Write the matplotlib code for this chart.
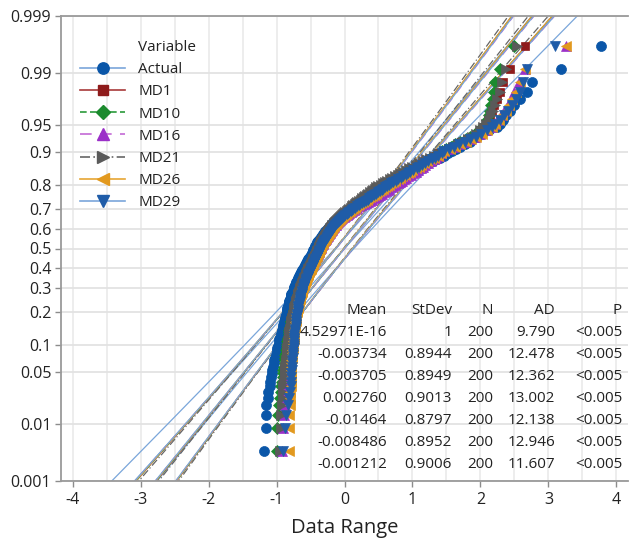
import numpy as np
import matplotlib
matplotlib.use("Agg")
import matplotlib.pyplot as plt
from matplotlib.lines import Line2D
from statistics import NormalDist

plt.rcParams['font.family'] = ['Open Sans', 'DejaVu Sans']

N = 200
names = ['Actual', 'MD1', 'MD10', 'MD16', 'MD21', 'MD26', 'MD29']
means = [4.52971e-16, -0.003734, -0.003705, 0.002760, -0.01464, -0.008486, -0.001212]
stdevs = [1, 0.8944, 0.8949, 0.9013, 0.8797, 0.8952, 0.9006]
mean_labels = ['4.52971E-16', '-0.003734', '-0.003705', '0.002760', '-0.01464', '-0.008486', '-0.001212']
stdev_labels = ['1', '0.8944', '0.8949', '0.9013', '0.8797', '0.8952', '0.9006']
n_labels = ['200'] * 7
ad_labels = ['9.790', '12.478', '12.362', '13.002', '12.138', '12.946', '11.607']
p_labels = ['<0.005'] * 7

prob_ticks = [0.001, 0.01, 0.05, 0.1, 0.2, 0.3, 0.4, 0.5, 0.6, 0.7, 0.8, 0.9, 0.95, 0.99, 0.999]
prob_tick_labels = ['0.001', '0.01', '0.05', '0.1', '0.2', '0.3', '0.4', '0.5', '0.6', '0.7',
                    '0.8', '0.9', '0.95', '0.99', '0.999']
x_ticks = [-4, -3, -2, -1, 0, 1, 2, 3, 4]

# sorted sample values (rank 1..200)
actual = [
    -1.19, -1.16, -1.16, -1.15, -1.13, -1.12, -1.10, -1.09, -1.08, -1.07,
    -1.06, -1.05, -1.04, -1.03, -1.02, -1.01, -1.00, -0.99, -0.99, -0.98,
    -0.97, -0.96, -0.96, -0.95, -0.94, -0.93, -0.92, -0.92, -0.91, -0.90,
    -0.90, -0.89, -0.89, -0.88, -0.87, -0.87, -0.86, -0.86, -0.85, -0.85,
    -0.85, -0.84, -0.84, -0.83, -0.83, -0.82, -0.82, -0.81, -0.81, -0.80,
    -0.80, -0.79, -0.79, -0.78, -0.78, -0.77, -0.76, -0.76, -0.75, -0.74,
    -0.74, -0.73, -0.73, -0.72, -0.71, -0.71, -0.70, -0.69, -0.69, -0.68,
    -0.67, -0.67, -0.66, -0.65, -0.64, -0.64, -0.63, -0.62, -0.61, -0.60,
    -0.59, -0.58, -0.58, -0.57, -0.56, -0.55, -0.55, -0.54, -0.53, -0.52,
    -0.51, -0.51, -0.50, -0.49, -0.48, -0.48, -0.47, -0.46, -0.46, -0.45,
    -0.44, -0.43, -0.43, -0.42, -0.41, -0.40, -0.40, -0.39, -0.38, -0.37,
    -0.36, -0.35, -0.34, -0.33, -0.32, -0.31, -0.30, -0.29, -0.28, -0.26,
    -0.25, -0.24, -0.23, -0.22, -0.20, -0.19, -0.18, -0.16, -0.15, -0.13,
    -0.11, -0.10, -0.08, -0.06, -0.04, -0.02, 0.00, 0.02, 0.04, 0.06,
    0.09, 0.12, 0.15, 0.17, 0.20, 0.23, 0.26, 0.29, 0.31, 0.34,
    0.37, 0.40, 0.42, 0.45, 0.48, 0.50, 0.53, 0.55, 0.58, 0.60,
    0.64, 0.67, 0.71, 0.75, 0.79, 0.83, 0.86, 0.90, 0.94, 0.98,
    1.03, 1.08, 1.14, 1.19, 1.25, 1.30, 1.36, 1.41, 1.47, 1.52,
    1.58, 1.64, 1.70, 1.77, 1.84, 1.88, 1.95, 2.02, 2.12, 2.24,
    2.28, 2.33, 2.38, 2.43, 2.50, 2.58, 2.68, 2.76, 3.18, 3.78,
]
md1 = [
    -0.93, -0.92, -0.91, -0.90, -0.89, -0.89, -0.88, -0.88, -0.87, -0.87,
    -0.86, -0.86, -0.85, -0.85, -0.85, -0.84, -0.84, -0.84, -0.83, -0.83,
    -0.83, -0.82, -0.82, -0.82, -0.81, -0.81, -0.80, -0.80, -0.80, -0.79,
    -0.79, -0.78, -0.78, -0.78, -0.77, -0.77, -0.76, -0.76, -0.76, -0.75,
    -0.75, -0.74, -0.74, -0.73, -0.73, -0.72, -0.72, -0.71, -0.71, -0.70,
    -0.70, -0.69, -0.69, -0.68, -0.68, -0.67, -0.66, -0.66, -0.65, -0.65,
    -0.64, -0.64, -0.63, -0.62, -0.62, -0.61, -0.60, -0.60, -0.59, -0.58,
    -0.58, -0.57, -0.56, -0.56, -0.55, -0.54, -0.54, -0.53, -0.52, -0.51,
    -0.51, -0.50, -0.49, -0.49, -0.48, -0.47, -0.47, -0.46, -0.45, -0.45,
    -0.44, -0.43, -0.43, -0.42, -0.41, -0.41, -0.40, -0.39, -0.39, -0.38,
    -0.37, -0.37, -0.36, -0.35, -0.35, -0.34, -0.33, -0.33, -0.32, -0.31,
    -0.30, -0.29, -0.29, -0.28, -0.27, -0.26, -0.25, -0.24, -0.23, -0.22,
    -0.21, -0.20, -0.19, -0.18, -0.17, -0.15, -0.14, -0.13, -0.12, -0.10,
    -0.09, -0.07, -0.06, -0.04, -0.02, -0.01, 0.01, 0.03, 0.05, 0.07,
    0.09, 0.12, 0.14, 0.17, 0.19, 0.22, 0.24, 0.27, 0.29, 0.32,
    0.34, 0.37, 0.39, 0.42, 0.44, 0.47, 0.49, 0.52, 0.54, 0.57,
    0.60, 0.63, 0.67, 0.70, 0.74, 0.77, 0.81, 0.85, 0.88, 0.92,
    0.96, 1.01, 1.05, 1.10, 1.14, 1.19, 1.24, 1.29, 1.34, 1.39,
    1.45, 1.52, 1.58, 1.65, 1.72, 1.80, 1.88, 1.95, 2.00, 2.05,
    2.08, 2.11, 2.14, 2.17, 2.20, 2.24, 2.28, 2.33, 2.43, 2.65,
]
md10 = [
    -1.00, -0.99, -0.98, -0.96, -0.95, -0.94, -0.93, -0.92, -0.91, -0.90,
    -0.90, -0.89, -0.88, -0.88, -0.87, -0.87, -0.86, -0.86, -0.85, -0.85,
    -0.84, -0.84, -0.83, -0.83, -0.82, -0.82, -0.81, -0.81, -0.80, -0.80,
    -0.79, -0.79, -0.78, -0.78, -0.77, -0.77, -0.76, -0.76, -0.75, -0.75,
    -0.74, -0.74, -0.73, -0.73, -0.72, -0.72, -0.71, -0.71, -0.70, -0.70,
    -0.69, -0.69, -0.68, -0.68, -0.67, -0.66, -0.66, -0.65, -0.65, -0.64,
    -0.64, -0.63, -0.62, -0.62, -0.61, -0.60, -0.60, -0.59, -0.58, -0.58,
    -0.57, -0.56, -0.56, -0.55, -0.54, -0.54, -0.53, -0.52, -0.51, -0.51,
    -0.50, -0.49, -0.49, -0.48, -0.47, -0.46, -0.46, -0.45, -0.44, -0.44,
    -0.43, -0.42, -0.42, -0.41, -0.40, -0.40, -0.39, -0.38, -0.38, -0.37,
    -0.36, -0.36, -0.35, -0.34, -0.34, -0.33, -0.32, -0.32, -0.31, -0.30,
    -0.29, -0.28, -0.28, -0.27, -0.26, -0.25, -0.24, -0.23, -0.22, -0.21,
    -0.20, -0.19, -0.18, -0.17, -0.16, -0.14, -0.13, -0.12, -0.11, -0.09,
    -0.08, -0.06, -0.05, -0.03, -0.01, 0.00, 0.02, 0.04, 0.06, 0.08,
    0.10, 0.13, 0.15, 0.18, 0.20, 0.23, 0.25, 0.28, 0.30, 0.33,
    0.35, 0.38, 0.40, 0.43, 0.45, 0.48, 0.50, 0.53, 0.55, 0.58,
    0.61, 0.64, 0.68, 0.71, 0.75, 0.78, 0.82, 0.86, 0.89, 0.93,
    0.97, 1.02, 1.06, 1.11, 1.15, 1.20, 1.25, 1.30, 1.35, 1.40,
    1.44, 1.50, 1.57, 1.63, 1.70, 1.78, 1.85, 1.92, 1.98, 2.04,
    2.08, 2.10, 2.12, 2.14, 2.16, 2.18, 2.20, 2.22, 2.28, 2.50,
]
md16 = [
    -0.92, -0.90, -0.89, -0.88, -0.87, -0.86, -0.86, -0.85, -0.85, -0.84,
    -0.84, -0.83, -0.83, -0.82, -0.82, -0.82, -0.81, -0.81, -0.81, -0.80,
    -0.80, -0.80, -0.79, -0.79, -0.79, -0.78, -0.78, -0.78, -0.77, -0.77,
    -0.77, -0.76, -0.76, -0.76, -0.75, -0.75, -0.75, -0.74, -0.74, -0.73,
    -0.73, -0.73, -0.72, -0.72, -0.71, -0.71, -0.70, -0.70, -0.69, -0.69,
    -0.68, -0.68, -0.67, -0.67, -0.66, -0.66, -0.65, -0.65, -0.64, -0.63,
    -0.63, -0.62, -0.62, -0.61, -0.60, -0.60, -0.59, -0.58, -0.58, -0.57,
    -0.56, -0.56, -0.55, -0.54, -0.54, -0.53, -0.52, -0.52, -0.51, -0.50,
    -0.49, -0.49, -0.48, -0.47, -0.47, -0.46, -0.45, -0.44, -0.44, -0.43,
    -0.42, -0.42, -0.41, -0.40, -0.39, -0.39, -0.38, -0.37, -0.37, -0.36,
    -0.35, -0.34, -0.34, -0.33, -0.32, -0.31, -0.31, -0.30, -0.29, -0.28,
    -0.27, -0.27, -0.26, -0.25, -0.24, -0.23, -0.22, -0.21, -0.20, -0.19,
    -0.18, -0.17, -0.16, -0.15, -0.13, -0.12, -0.11, -0.09, -0.08, -0.06,
    -0.05, -0.03, -0.01, 0.01, 0.03, 0.05, 0.07, 0.09, 0.11, 0.14,
    0.16, 0.19, 0.22, 0.25, 0.28, 0.31, 0.34, 0.37, 0.40, 0.43,
    0.46, 0.49, 0.52, 0.55, 0.58, 0.61, 0.64, 0.66, 0.69, 0.72,
    0.75, 0.78, 0.81, 0.84, 0.87, 0.91, 0.94, 0.98, 1.01, 1.05,
    1.08, 1.12, 1.15, 1.19, 1.23, 1.27, 1.31, 1.35, 1.39, 1.42,
    1.45, 1.52, 1.60, 1.68, 1.76, 1.84, 1.92, 2.00, 2.08, 2.15,
    2.20, 2.25, 2.30, 2.35, 2.40, 2.45, 2.50, 2.56, 2.65, 3.26,
]
md21 = [
    -0.95, -0.94, -0.93, -0.92, -0.91, -0.90, -0.90, -0.89, -0.88, -0.88,
    -0.87, -0.87, -0.86, -0.86, -0.85, -0.85, -0.85, -0.84, -0.84, -0.83,
    -0.83, -0.83, -0.82, -0.82, -0.81, -0.81, -0.81, -0.80, -0.80, -0.79,
    -0.79, -0.78, -0.78, -0.78, -0.77, -0.77, -0.76, -0.76, -0.75, -0.75,
    -0.75, -0.74, -0.74, -0.73, -0.73, -0.72, -0.72, -0.71, -0.71, -0.70,
    -0.70, -0.69, -0.69, -0.68, -0.68, -0.67, -0.67, -0.66, -0.65, -0.65,
    -0.64, -0.64, -0.63, -0.63, -0.62, -0.61, -0.61, -0.60, -0.59, -0.59,
    -0.58, -0.57, -0.57, -0.56, -0.55, -0.55, -0.54, -0.53, -0.53, -0.52,
    -0.51, -0.51, -0.50, -0.49, -0.48, -0.48, -0.47, -0.46, -0.46, -0.45,
    -0.44, -0.44, -0.43, -0.42, -0.42, -0.41, -0.40, -0.40, -0.39, -0.38,
    -0.38, -0.37, -0.36, -0.36, -0.35, -0.34, -0.34, -0.33, -0.32, -0.31,
    -0.31, -0.30, -0.29, -0.28, -0.27, -0.27, -0.26, -0.25, -0.24, -0.23,
    -0.22, -0.21, -0.20, -0.19, -0.18, -0.16, -0.15, -0.14, -0.13, -0.11,
    -0.10, -0.08, -0.07, -0.05, -0.04, -0.02, -0.01, 0.01, 0.03, 0.05,
    0.07, 0.09, 0.11, 0.13, 0.15, 0.17, 0.19, 0.21, 0.24, 0.26,
    0.28, 0.30, 0.33, 0.35, 0.37, 0.40, 0.42, 0.45, 0.47, 0.50,
    0.53, 0.56, 0.60, 0.63, 0.67, 0.70, 0.74, 0.78, 0.82, 0.86,
    0.90, 0.95, 1.00, 1.05, 1.10, 1.15, 1.20, 1.26, 1.31, 1.37,
    1.46, 1.53, 1.60, 1.67, 1.74, 1.81, 1.88, 1.94, 1.99, 2.04,
    2.08, 2.12, 2.16, 2.19, 2.22, 2.25, 2.28, 2.32, 2.38, 2.54,
]
md26 = [
    -0.82, -0.81, -0.81, -0.80, -0.80, -0.80, -0.79, -0.79, -0.79, -0.79,
    -0.78, -0.78, -0.78, -0.78, -0.77, -0.77, -0.77, -0.77, -0.76, -0.76,
    -0.76, -0.76, -0.75, -0.75, -0.75, -0.75, -0.74, -0.74, -0.74, -0.73,
    -0.73, -0.73, -0.73, -0.72, -0.72, -0.72, -0.71, -0.71, -0.71, -0.70,
    -0.70, -0.70, -0.69, -0.69, -0.69, -0.68, -0.68, -0.67, -0.67, -0.67,
    -0.66, -0.66, -0.65, -0.65, -0.64, -0.64, -0.63, -0.63, -0.62, -0.62,
    -0.61, -0.61, -0.60, -0.60, -0.59, -0.58, -0.58, -0.57, -0.57, -0.56,
    -0.55, -0.55, -0.54, -0.54, -0.53, -0.52, -0.52, -0.51, -0.50, -0.50,
    -0.49, -0.48, -0.48, -0.47, -0.46, -0.46, -0.45, -0.44, -0.44, -0.43,
    -0.42, -0.42, -0.41, -0.40, -0.40, -0.39, -0.38, -0.38, -0.37, -0.36,
    -0.36, -0.35, -0.34, -0.34, -0.33, -0.32, -0.31, -0.31, -0.30, -0.29,
    -0.28, -0.27, -0.27, -0.26, -0.25, -0.24, -0.23, -0.22, -0.21, -0.20,
    -0.19, -0.18, -0.17, -0.16, -0.15, -0.13, -0.12, -0.11, -0.09, -0.08,
    -0.06, -0.05, -0.03, -0.02, 0.00, 0.02, 0.04, 0.06, 0.08, 0.10,
    0.12, 0.15, 0.17, 0.20, 0.22, 0.25, 0.27, 0.30, 0.33, 0.35,
    0.38, 0.40, 0.43, 0.46, 0.48, 0.51, 0.54, 0.56, 0.59, 0.62,
    0.65, 0.68, 0.71, 0.75, 0.78, 0.82, 0.85, 0.89, 0.93, 0.96,
    1.00, 1.05, 1.09, 1.13, 1.17, 1.22, 1.27, 1.32, 1.37, 1.42,
    1.47, 1.55, 1.62, 1.70, 1.78, 1.86, 1.94, 2.02, 2.10, 2.17,
    2.22, 2.27, 2.32, 2.37, 2.42, 2.47, 2.52, 2.58, 2.65, 3.26,
]
md29 = [
    -0.90, -0.88, -0.86, -0.83, -0.81, -0.80, -0.79, -0.78, -0.78, -0.78,
    -0.77, -0.77, -0.77, -0.77, -0.76, -0.76, -0.76, -0.76, -0.75, -0.75,
    -0.75, -0.75, -0.74, -0.74, -0.74, -0.74, -0.73, -0.73, -0.73, -0.72,
    -0.72, -0.72, -0.72, -0.71, -0.71, -0.71, -0.70, -0.70, -0.70, -0.69,
    -0.69, -0.69, -0.68, -0.68, -0.68, -0.67, -0.67, -0.66, -0.66, -0.66,
    -0.65, -0.65, -0.64, -0.64, -0.63, -0.63, -0.62, -0.62, -0.61, -0.61,
    -0.60, -0.60, -0.59, -0.59, -0.58, -0.57, -0.57, -0.56, -0.56, -0.55,
    -0.54, -0.54, -0.53, -0.53, -0.52, -0.51, -0.51, -0.50, -0.49, -0.49,
    -0.48, -0.47, -0.47, -0.46, -0.45, -0.45, -0.44, -0.43, -0.43, -0.42,
    -0.41, -0.41, -0.40, -0.39, -0.39, -0.38, -0.37, -0.37, -0.36, -0.35,
    -0.35, -0.34, -0.33, -0.33, -0.32, -0.31, -0.30, -0.30, -0.29, -0.28,
    -0.27, -0.26, -0.26, -0.25, -0.24, -0.23, -0.22, -0.21, -0.20, -0.19,
    -0.18, -0.17, -0.16, -0.15, -0.14, -0.12, -0.11, -0.10, -0.08, -0.07,
    -0.05, -0.04, -0.02, -0.01, 0.01, 0.03, 0.05, 0.07, 0.09, 0.11,
    0.13, 0.16, 0.18, 0.21, 0.23, 0.26, 0.28, 0.31, 0.34, 0.36,
    0.39, 0.41, 0.44, 0.47, 0.49, 0.52, 0.55, 0.57, 0.60, 0.63,
    0.66, 0.69, 0.72, 0.76, 0.79, 0.83, 0.86, 0.90, 0.94, 0.97,
    1.01, 1.06, 1.10, 1.14, 1.18, 1.23, 1.28, 1.33, 1.38, 1.43,
    1.46, 1.53, 1.61, 1.69, 1.77, 1.85, 1.93, 2.01, 2.09, 2.17,
    2.22, 2.28, 2.34, 2.40, 2.46, 2.52, 2.58, 2.63, 2.69, 3.09,
]
samples = [actual, md1, md10, md16, md21, md26, md29]

# minitab-ish styling per series
marker_colors = ['#0a56a8', '#8e1b1b', '#1b8a2e', '#9b30c8', '#5a5a5a', '#e2991f', '#1f5ca8']
line_colors = ['#7aa6da', '#a83a3a', '#2a9a3a', '#c46ad6', '#666666', '#e6a534', '#7aa6da']
line_styles = ['-', '-', (0, (4, 2)), (0, (7, 5)), (0, (6, 2, 1, 2)), '-', '-']
markers = ['o', 's', 'D', '^', '>', '<', 'v']
marker_sizes = [7.2, 6.4, 5.8, 7, 7, 7, 7]

TXT = '#222222'
W, H = 629, 541

nd = NormalDist()
z_pos = np.array([nd.inv_cdf((i + 1 - 0.3) / (N + 0.4)) for i in range(N)])
z_ticks = [nd.inv_cdf(p) for p in prob_ticks]
z_top = nd.inv_cdf(0.999)

fig = plt.figure(figsize=(W / 100, H / 100), dpi=100)
ax = fig.add_axes([61 / W, (H - 481) / H, 567 / W, 465 / H])

# grid
for xv in np.arange(-4, 4.01, 0.5):
    ax.axvline(xv, color='#e8e8e8', lw=1.1, zorder=0)
for zv in z_ticks:
    ax.axhline(zv, color='#e3e3e3', lw=1.3, zorder=0)

# fitted lines with 95% confidence bands
zz = np.linspace(-3.3, 3.3, 300)
for k in range(len(names)):
    m, s = means[k], stdevs[k]
    fit = m + s * zz
    half = 1.96 * s * np.sqrt(1 / N + zz ** 2 / (2 * N))
    for xs in (fit, fit - half, fit + half):
        ax.plot(xs, zz, color=line_colors[k], ls=line_styles[k], lw=0.9, zorder=2)

# points
for k in range(len(names)):
    ax.plot(samples[k], z_pos, ls='none', marker=markers[k], ms=marker_sizes[k],
            mfc=marker_colors[k], mec=marker_colors[k], mew=0.5, zorder=3 + k)

ax.set_xlim(-4.17, 4.17)
ax.set_ylim(-z_top, z_top)
ax.set_xticks(x_ticks)
ax.set_xticklabels([str(v) for v in x_ticks])
ax.set_yticks(z_ticks)
ax.set_yticklabels(prob_tick_labels)
ax.tick_params(axis='both', labelsize=11.5, colors='#8c8c8c', labelcolor=TXT, length=4, width=1)
ax.tick_params(axis='y', pad=3)
ax.tick_params(axis='x', pad=4)
for side in ['left', 'bottom', 'top']:
    ax.spines[side].set_color('#9a9a9a')
    ax.spines[side].set_linewidth(1.3)
ax.spines['right'].set_visible(False)
ax.set_xlabel('Data Range', fontsize=14.5, color=TXT, labelpad=7)

# legend
handles = [Line2D([], [], ls='none')]
labels = ['Variable']
for k in range(len(names)):
    handles.append(Line2D([], [], color=line_colors[k], ls=line_styles[k], lw=1.2,
                          marker=markers[k], ms=marker_sizes[k] + 1,
                          mfc=marker_colors[k], mec=marker_colors[k]))
    labels.append(names[k])
fig.legend(handles, labels, loc='upper left', bbox_to_anchor=(80 / W, 1 - 40 / H),
           frameon=False, fontsize=11, handlelength=2.95, handletextpad=0.85,
           labelspacing=0.47, borderpad=0, borderaxespad=0, labelcolor=TXT)

# statistics table
col_right = [387, 452, 493, 555, 622]
headers = ['Mean', 'StDev', 'N', 'AD', 'P']
columns = [mean_labels, stdev_labels, n_labels, ad_labels, p_labels]
for c, xr in enumerate(col_right):
    fig.text(xr / W, 1 - 310 / H, headers[c], ha='right', va='center', fontsize=11, color=TXT)
    for r in range(len(names)):
        yr = 333 + 21.9 * r
        fig.text(xr / W, 1 - yr / H, columns[c][r], ha='right', va='center', fontsize=11, color=TXT)

fig.savefig('out.png', dpi=100)
